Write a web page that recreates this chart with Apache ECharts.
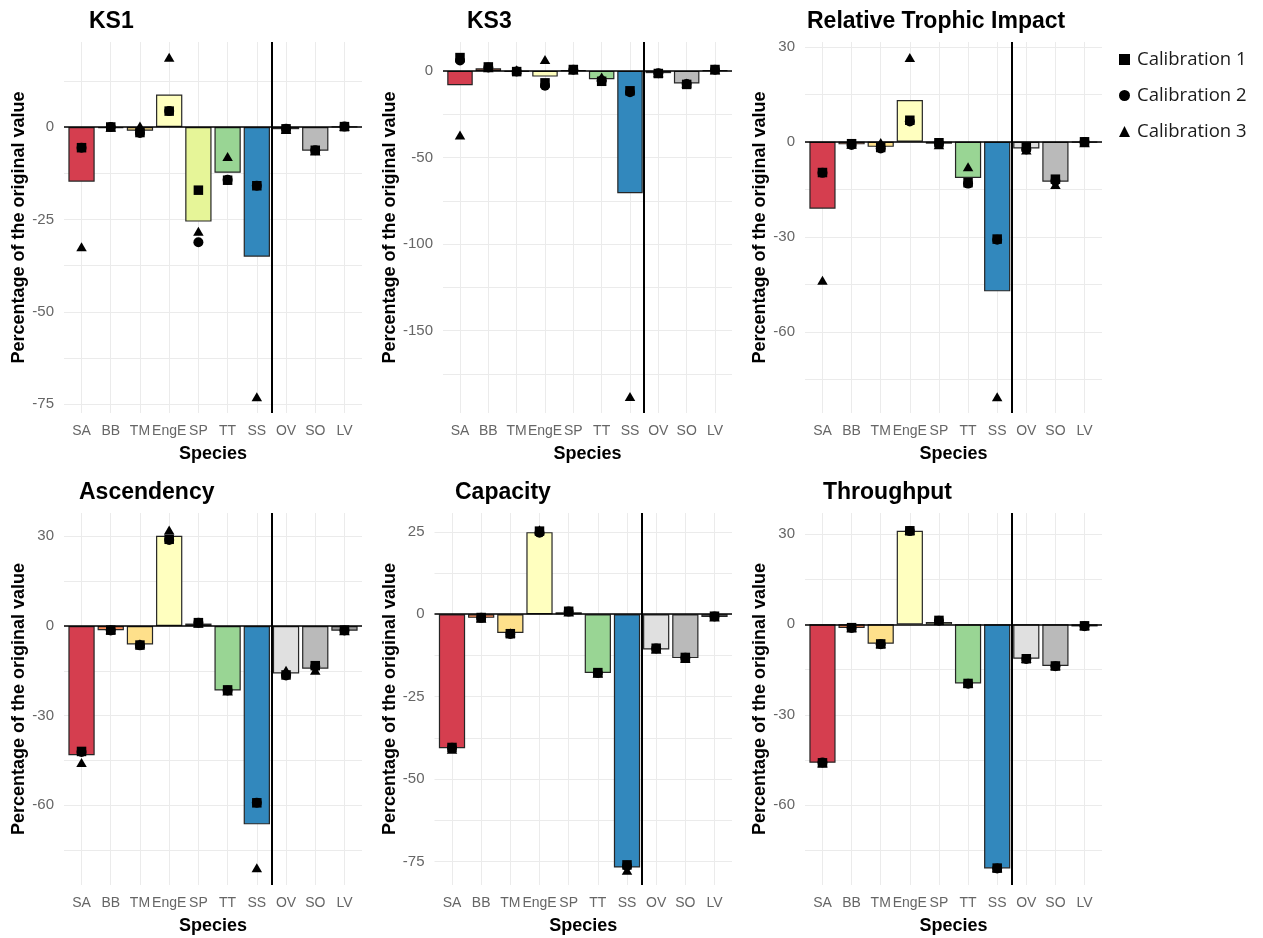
<!DOCTYPE html>
<html>
<head>
<meta charset="utf-8">
<script src="https://cdn.jsdelivr.net/npm/echarts@6/dist/echarts.min.js"></script>
<style>
  html, body { margin: 0; padding: 0; background: #ffffff; }
  #chart { width: 1263px; height: 938px; }
</style>
</head>
<body>
<div id="chart"></div>
<script>
// Species on the x axis (the vertical rule separates SS from OV, SO, LV)
const species = ['SA', 'BB', 'TM', 'EngE', 'SP', 'TT', 'SS', 'OV', 'SO', 'LV'];
const calNames = ['Calibration 1', 'Calibration 2', 'Calibration 3'];
const barColors = ['#D53E4F', '#FC8D59', '#FEE08B', '#FFFFBF', '#E6F598', '#99D594', '#3288BD', '#E0E0E0', '#BABABA', '#999999'];

// KS1
const ks1Mean = [-14.8, -0.3, -1.0, 8.8, -25.6, -12.4, -35.1, -0.6, -6.4, 0.1];
const ks1Cal1 = [-5.6, 0.0, -1.5, 4.3, -17.1, -14.4, -15.9, -0.5, -6.3, 0.1];
const ks1Cal2 = [-5.6, 0.0, -1.6, 4.3, -31.2, -14.3, -15.9, -0.5, -6.3, 0.1];
const ks1Cal3 = [-32.4, -0.1, 0.3, 18.9, -28.2, -8.0, -73.0, -0.7, -6.5, 0.1];
const ks1Ticks = [-75, -50, -25, 0];
const ks1Grid = [-75, -62.5, -50, -37.5, -25, -12.5, 0, 12.5];

// KS3
const ks3Mean = [-8.3, 1.5, -0.5, -3.3, 0.3, -4.8, -70.6, -1.3, -7.3, 0.3];
const ks3Cal1 = [7.7, 2.3, -0.4, -6.9, 0.8, -6.0, -11.5, -1.5, -7.8, 0.8];
const ks3Cal2 = [6.0, 2.0, -0.3, -8.5, 0.7, -5.5, -12.3, -1.4, -7.6, 0.7];
const ks3Cal3 = [-37.0, 1.8, 0.6, 6.6, 0.5, -3.5, -188.0, -1.0, -7.0, 0.5];
const ks3Ticks = [-150, -100, -50, 0];
const ks3Grid = [-175, -150, -125, -100, -75, -50, -25, 0];

// Relative Trophic Impact
const rtiMean = [-21.1, -0.8, -1.6, 13.2, -0.6, -11.4, -47.2, -2.1, -12.6, -0.2];
const rtiCal1 = [-9.7, -0.6, -1.8, 6.8, -0.3, -12.9, -30.7, -1.6, -11.8, 0.0];
const rtiCal2 = [-9.8, -1.0, -2.1, 6.4, -0.5, -13.2, -30.9, -2.4, -12.3, -0.1];
const rtiCal3 = [-43.7, -0.8, -0.2, 26.6, -0.9, -7.9, -80.5, -2.6, -13.5, -0.3];
const rtiTicks = [-60, -30, 0, 30];
const rtiGrid = [-75, -60, -45, -30, -15, 0, 15, 30];

// Ascendency
const ascMean = [-43.3, -1.4, -6.2, 30.2, 0.8, -21.6, -66.4, -15.9, -14.3, -1.6];
const ascCal1 = [-42.0, -1.4, -6.4, 29.0, 1.1, -21.4, -59.2, -16.4, -13.3, -1.4];
const ascCal2 = [-42.2, -1.5, -6.5, 28.8, 1.1, -21.6, -59.2, -16.6, -13.6, -1.5];
const ascCal3 = [-45.7, -1.3, -6.0, 32.1, 0.9, -21.8, -80.9, -14.8, -14.8, -1.6];
const ascTicks = [-60, -30, 0, 30];
const ascGrid = [-75, -60, -45, -30, -15, 0, 15, 30];

// Capacity
const capMean = [-40.6, -1.1, -5.7, 24.9, 0.6, -17.8, -76.8, -10.7, -13.3, -0.8];
const capCal1 = [-40.4, -1.0, -5.9, 25.2, 0.9, -17.7, -76.0, -10.3, -13.1, -0.6];
const capCal2 = [-40.5, -1.1, -6.0, 24.7, 0.8, -17.8, -76.3, -10.4, -13.2, -0.7];
const capCal3 = [-40.9, -1.2, -5.6, 25.6, 0.7, -17.9, -77.6, -10.6, -13.4, -0.8];
const capTicks = [-75, -50, -25, 0, 25];
const capGrid = [-75, -62.5, -50, -37.5, -25, -12.5, 0, 12.5, 25];

// Throughput
const thrMean = [-45.9, -1.2, -6.4, 31.0, 0.8, -19.6, -80.9, -11.4, -13.8, -0.7];
const thrCal1 = [-45.9, -1.1, -6.5, 31.0, 1.3, -19.6, -80.8, -11.4, -13.8, -0.5];
const thrCal2 = [-45.8, -1.2, -6.6, 30.9, 1.2, -19.7, -80.9, -11.5, -13.9, -0.6];
const thrCal3 = [-46.0, -1.1, -6.4, 31.2, 1.3, -19.5, -80.7, -11.3, -13.7, -0.5];
const thrTicks = [-60, -30, 0, 30];
const thrGrid = [-75, -60, -45, -30, -15, 0, 15, 30];

// Panel layout (pixels) and axis ranges
const panels = [
  { title: 'KS1', mean: ks1Mean, cal: [ks1Cal1, ks1Cal2, ks1Cal3], ticks: ks1Ticks, grid: ks1Grid,
    yMin: -77.4, yMax: 23.0, left: 64, top: 42, width: 298, height: 371, titleX: 89, titleY: 22, yGap: 35 },
  { title: 'KS3', mean: ks3Mean, cal: [ks3Cal1, ks3Cal2, ks3Cal3], ticks: ks3Ticks, grid: ks3Grid,
    yMin: -197.6, yMax: 16.7, left: 443, top: 42, width: 289, height: 371, titleX: 467, titleY: 22, yGap: 43 },
  { title: 'Relative Trophic Impact', mean: rtiMean, cal: [rtiCal1, rtiCal2, rtiCal3], ticks: rtiTicks, grid: rtiGrid,
    yMin: -85.6, yMax: 31.5, left: 805, top: 42, width: 297, height: 371, titleX: 807, titleY: 22, yGap: 35 },
  { title: 'Ascendency', mean: ascMean, cal: [ascCal1, ascCal2, ascCal3], ticks: ascTicks, grid: ascGrid,
    yMin: -86.7, yMax: 37.8, left: 64, top: 513, width: 298, height: 372, titleX: 79, titleY: 493, yGap: 35 },
  { title: 'Capacity', mean: capMean, cal: [capCal1, capCal2, capCal3], ticks: capTicks, grid: capGrid,
    yMin: -82.1, yMax: 30.7, left: 434.5, top: 513, width: 297.5, height: 372, titleX: 455, titleY: 493, yGap: 34.5 },
  { title: 'Throughput', mean: thrMean, cal: [thrCal1, thrCal2, thrCal3], ticks: thrTicks, grid: thrGrid,
    yMin: -86.4, yMax: 36.9, left: 805, top: 513, width: 297, height: 372, titleX: 823, titleY: 493, yGap: 35 }
];

const positions = species.map((s, k) => k + 1);
const symbols = ['rect', 'circle', 'triangle'];
const symbolSizes = [9.5, 10, [10.5, 9]];
const FONT = '"Liberation Sans", Arial, sans-serif';

const option = {
  animation: false,
  backgroundColor: '#ffffff',
  grid: [], xAxis: [], yAxis: [], series: [], graphic: [],
  legend: {
    orient: 'vertical', left: 1114, top: 44,
    itemWidth: 11, itemHeight: 11, itemGap: 15,
    selectedMode: false,
    data: calNames,
    textStyle: { fontFamily: '"Open Sans", sans-serif', fontSize: 18.5, color: '#1a1a1a', lineHeight: 21, padding: [0, 0, 0, 2] }
  }
};

panels.forEach((p, i) => {
  option.grid.push({ left: p.left, top: p.top, width: p.width, height: p.height, containLabel: false });

  option.xAxis.push({
    gridIndex: i, type: 'value', min: 0.4, max: 10.6,
    axisLine: { show: false },
    axisTick: { show: false, customValues: positions },
    axisLabel: {
      customValues: positions,
      formatter: v => species[Math.round(v) - 1],
      color: '#666666', fontSize: 14, fontFamily: FONT, margin: 11, hideOverlap: false
    },
    splitLine: { show: true, lineStyle: { color: '#ebebeb', width: 1 } },
    name: 'Species', nameLocation: 'middle', nameGap: 32,
    nameTextStyle: { fontWeight: 'bold', fontSize: 18, color: '#000', fontFamily: FONT }
  });

  option.yAxis.push({
    gridIndex: i, type: 'value', min: p.yMin, max: p.yMax,
    axisLine: { show: false },
    axisTick: { show: false, customValues: p.grid },
    axisLabel: { customValues: p.ticks, color: '#666666', fontSize: 15, fontFamily: FONT, margin: 10 },
    splitLine: { show: true, lineStyle: { color: '#ebebeb', width: 1 } },
    name: 'Percentage of the original value', nameLocation: 'middle', nameGap: p.yGap,
    nameTextStyle: { fontWeight: 'bold', fontSize: 18, color: '#000', fontFamily: FONT }
  });

  option.series.push({
    type: 'bar', xAxisIndex: i, yAxisIndex: i, silent: true,
    barWidth: 0.9 * p.width / 10.2,
    itemStyle: { borderColor: '#262626', borderWidth: 1.2 },
    data: p.mean.map((v, k) => ({ value: [positions[k], v], itemStyle: { color: barColors[k] } })),
    markLine: {
      silent: true, symbol: 'none', animation: false,
      label: { show: false },
      data: [
        { xAxis: 7.5, lineStyle: { color: '#000', width: 2, type: 'solid' } },
        { yAxis: 0, lineStyle: { color: '#000', width: 1.5, type: 'solid' } }
      ]
    }
  });

  p.cal.forEach((vals, j) => {
    option.series.push({
      type: 'scatter', name: calNames[j], xAxisIndex: i, yAxisIndex: i, z: 4,
      symbol: symbols[j], symbolSize: symbolSizes[j],
      itemStyle: { color: '#000', opacity: 1 },
      data: vals.map((v, k) => [positions[k], v])
    });
  });

  option.graphic.push({
    type: 'text', x: p.titleX, y: p.titleY, silent: true,
    style: { text: p.title, fontSize: 23, fontWeight: 'bold', fontFamily: FONT, fill: '#000', verticalAlign: 'middle' }
  });
});

const chart = echarts.init(document.getElementById('chart'), null, { renderer: 'canvas' });
chart.setOption(option);
</script>
</body>
</html>
